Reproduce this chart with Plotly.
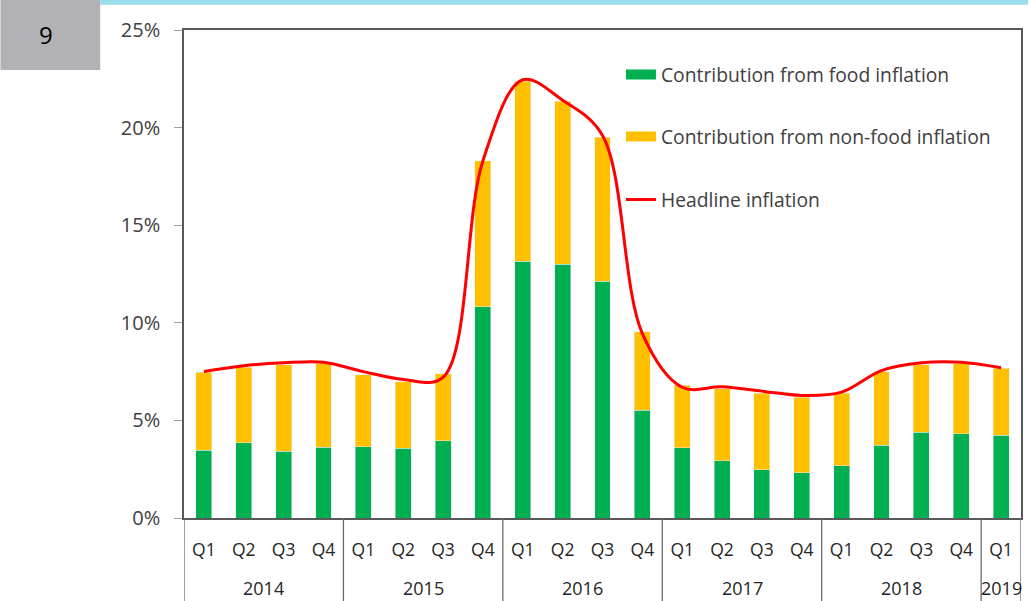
import plotly.graph_objects as go

years = ["2014"] * 4 + ["2015"] * 4 + ["2016"] * 4 + ["2017"] * 4 + ["2018"] * 4 + ["2019"]
quarters = ["Q1", "Q2", "Q3", "Q4"] * 5 + ["Q1"]
year_labels = ["2014", "2015", "2016", "2017", "2018", "2019"]

food = [3.46, 3.85, 3.42, 3.63, 3.66, 3.58, 3.95, 10.83,
        13.16, 12.99, 12.12, 5.51, 3.59, 2.93, 2.48, 2.31,
        2.67, 3.73, 4.40, 4.31, 4.23]
total = [7.47, 7.73, 7.86, 7.90, 7.35, 6.99, 7.39, 18.30,
         22.38, 21.35, 19.51, 9.55, 6.79, 6.62, 6.40, 6.19,
         6.40, 7.50, 7.85, 7.90, 7.68]
nonfood = [round(t - f, 2) for t, f in zip(total, food)]
headline = [7.50, 7.80, 7.95, 7.98, 7.50, 7.10, 7.20, 18.30,
            22.45, 21.40, 19.60, 9.45, 6.70, 6.72, 6.50, 6.28,
            6.45, 7.55, 7.95, 7.98, 7.70]
y_ticks = [0, 5, 10, 15, 20, 25]

GREEN = "#00B050"
YELLOW = "#FFC000"
RED = "#FF0000"
TXT = "#404040"
FONT = "Open Sans"

cats = [f"{y} {q}" for y, q in zip(years, quarters)]

fig = go.Figure()
fig.add_trace(go.Bar(x=cats, y=food, marker_color=GREEN, width=0.4,
                     name="Contribution from food inflation",
                     legendgroup="food", showlegend=False))
fig.add_trace(go.Bar(x=cats, y=nonfood, marker_color=YELLOW, width=0.4,
                     name="Contribution from non-food inflation",
                     legendgroup="nonfood", showlegend=False))
fig.add_trace(go.Scatter(x=cats, y=headline, mode="lines",
                         line=dict(color=RED, width=3, shape="spline", smoothing=1.0),
                         name="Headline inflation", legend="legend3"))
# legend entries (rectangular keys)
fig.add_trace(go.Scatter(x=[None], y=[None], mode="lines",
                         line=dict(color=GREEN, width=10),
                         name="Contribution from food inflation",
                         legendgroup="food", legend="legend"))
fig.add_trace(go.Scatter(x=[None], y=[None], mode="lines",
                         line=dict(color=YELLOW, width=10),
                         name="Contribution from non-food inflation",
                         legendgroup="nonfood", legend="legend2"))

W, H = 1030, 601
L, R, T, B = 184, 7, 30, 83
pw, ph = W - L - R, H - T - B


def px2x(p):
    return (p - L) / pw


def py2y(p):
    return (H - B - p) / ph


leg_common = dict(xanchor="left", yanchor="middle", bgcolor="rgba(0,0,0,0)",
                  font=dict(family=FONT, size=19.3, color=TXT))

fig.update_layout(
    width=W, height=H,
    margin=dict(l=L, r=R, t=T, b=B),
    paper_bgcolor="white", plot_bgcolor="white",
    barmode="stack",
    font=dict(family=FONT, color=TXT),
    legend=dict(x=px2x(622), y=py2y(75), **leg_common),
    legend2=dict(x=px2x(622), y=py2y(137), **leg_common),
    legend3=dict(x=px2x(622), y=py2y(200), **leg_common),
    yaxis=dict(range=[0, 25], tickvals=y_ticks, ticktext=[f"{v}%" for v in y_ticks],
               showgrid=False, zeroline=False,
               showline=True, linecolor="#595959", linewidth=1.5, mirror=True,
               ticks="outside", ticklen=8, tickcolor="#A0A0A0",
               ticklabelstandoff=10,
               tickfont=dict(family=FONT, size=20, color=TXT)),
    xaxis=dict(type="category", categoryorder="array", categoryarray=cats,
               tickvals=cats, ticktext=quarters,
               range=[-0.5, len(cats) - 0.5],
               showgrid=False, zeroline=False,
               showline=True, linecolor="#595959", linewidth=1.5, mirror=True,
               ticks="", ticklabelstandoff=15,
               tickfont=dict(family=FONT, size=17.5, color="#262626")),
)

# year group labels and dividers on the category axis
bounds = []
start = 0
for i in range(1, len(years) + 1):
    if i == len(years) or years[i] != years[i - 1]:
        bounds.append((start, i - 1))
        start = i
for (a, b), lab in zip(bounds, year_labels):
    fig.add_annotation(text=lab, xref="x", yref="paper", x=(a + b) / 2, y=py2y(588),
                       showarrow=False, xanchor="center", yanchor="middle",
                       font=dict(family=FONT, size=18, color="#262626"))
div_pos = [-0.5] + [b + 0.5 for a, b in bounds]
for xp in div_pos:
    fig.add_shape(type="line", xref="x", yref="paper", x0=xp, x1=xp,
                  y0=0, y1=py2y(605), line=dict(color="#6A6A6A", width=1.3))

# header decorations
fig.add_shape(type="rect", xref="paper", yref="paper",
              x0=px2x(0), x1=px2x(100), y0=py2y(70), y1=py2y(0),
              fillcolor="#B2B2B6", line_width=0, layer="below")
fig.add_shape(type="rect", xref="paper", yref="paper",
              x0=px2x(100), x1=px2x(1030), y0=py2y(4.7), y1=py2y(0),
              fillcolor="#97DEEA", line_width=0, layer="below")
fig.add_annotation(text="9", xref="paper", yref="paper", x=px2x(46), y=py2y(35),
                   showarrow=False, xanchor="center", yanchor="middle",
                   font=dict(family=FONT, size=24, color="black"))

fig.write_html("out.html", config={"displayModeBar": False},
               post_script="document.body.style.margin='0';")
